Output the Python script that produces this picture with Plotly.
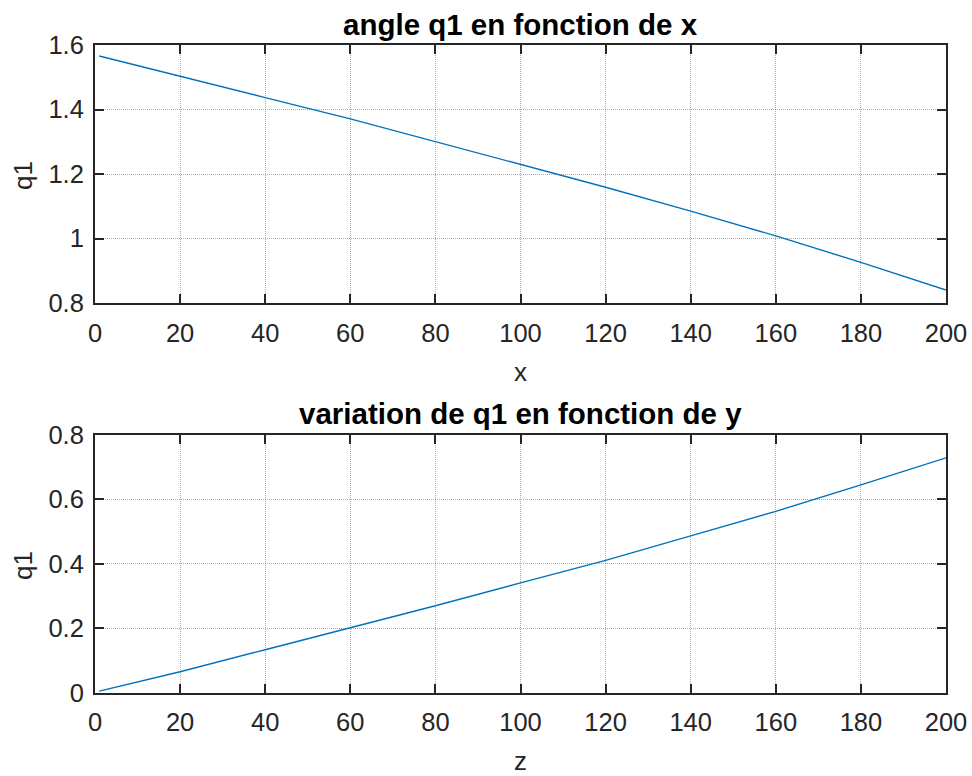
import plotly.graph_objects as go

# Sample positions along the horizontal axis
x_vals = [1, 20, 40, 60, 80, 100, 120, 140, 160, 180, 200]

# Angle q1 (rad) against x
q1_top = [1.566, 1.504, 1.437, 1.371, 1.301, 1.230, 1.159, 1.085, 1.008, 0.926, 0.840]

# Angle q1 (rad) against z
q1_bottom = [0.005, 0.065, 0.1335, 0.202, 0.270, 0.341, 0.411, 0.487, 0.563, 0.645, 0.729]

x_ticks = [0, 20, 40, 60, 80, 100, 120, 140, 160, 180, 200]
y_ticks_top = [0.8, 1.0, 1.2, 1.4, 1.6]
y_ticks_top_text = ["0.8", "1", "1.2", "1.4", "1.6"]
y_ticks_bottom = [0, 0.2, 0.4, 0.6, 0.8]
y_ticks_bottom_text = ["0", "0.2", "0.4", "0.6", "0.8"]

W, H = 972, 776
FONT = "Liberation Sans, Arial, Helvetica, sans-serif"
AX = "#262626"
LINE = "#0072BD"

def px(y):
    return 1 - y / H

fig = go.Figure()
fig.add_trace(go.Scatter(x=x_vals, y=q1_top, mode="lines",
                         line=dict(color=LINE, width=1.4), xaxis="x", yaxis="y"))
fig.add_trace(go.Scatter(x=x_vals, y=q1_bottom, mode="lines",
                         line=dict(color=LINE, width=1.4), xaxis="x2", yaxis="y2"))

xdom = [95 / W, 946 / W]
axis_common = dict(
    showline=True, linecolor=AX, linewidth=2, mirror="ticks",
    ticks="inside", ticklen=9, tickwidth=2, tickcolor=AX,
    showgrid=True, gridcolor="rgba(0,0,0,0.32)", griddash="1px,1px", gridwidth=1,
    zeroline=False, automargin=False,
    tickfont=dict(family=FONT, size=25.5, color=AX),
)
x_extra = dict(ticklabelstandoff=6)
y_extra = dict(ticklabelstandoff=4)

fig.update_layout(
    width=W, height=H, margin=dict(l=0, r=0, t=0, b=0, autoexpand=False),
    paper_bgcolor="white", plot_bgcolor="white", showlegend=False,
    xaxis=dict(domain=xdom, range=[0, 200], tickvals=x_ticks, anchor="y",
               **axis_common, **x_extra),
    yaxis=dict(domain=[px(303), px(45)], range=[0.8, 1.6], tickvals=y_ticks_top,
               ticktext=y_ticks_top_text, anchor="x", **axis_common, **y_extra),
    xaxis2=dict(domain=xdom, range=[0, 200], tickvals=x_ticks, anchor="y2",
                **axis_common, **x_extra),
    yaxis2=dict(domain=[px(692.7), px(435)], range=[0, 0.8], tickvals=y_ticks_bottom,
                ticktext=y_ticks_bottom_text, anchor="x2", **axis_common, **y_extra),
)

xc = (xdom[0] + xdom[1]) / 2
labels = [
    ("<b>angle q1 en fonction de x</b>", xc, px(25), 0, 29.5, "black"),
    ("<b>variation de q1 en fonction de y</b>", xc, px(413), 0, 29.5, "black"),
    ("x", xc, px(372), 0, 26, AX),
    ("z", xc, px(761), 0, 26, AX),
    ("q1", 23 / W, px(176), -90, 26, AX),
    ("q1", 23 / W, px(566), -90, 26, AX),
]
for text, x, y, ang, size, col in labels:
    fig.add_annotation(text=text, x=x, y=y, xref="paper", yref="paper",
                       xanchor="center", yanchor="middle", showarrow=False,
                       textangle=ang, font=dict(family=FONT, size=size, color=col))

fig.write_html("out.html")
